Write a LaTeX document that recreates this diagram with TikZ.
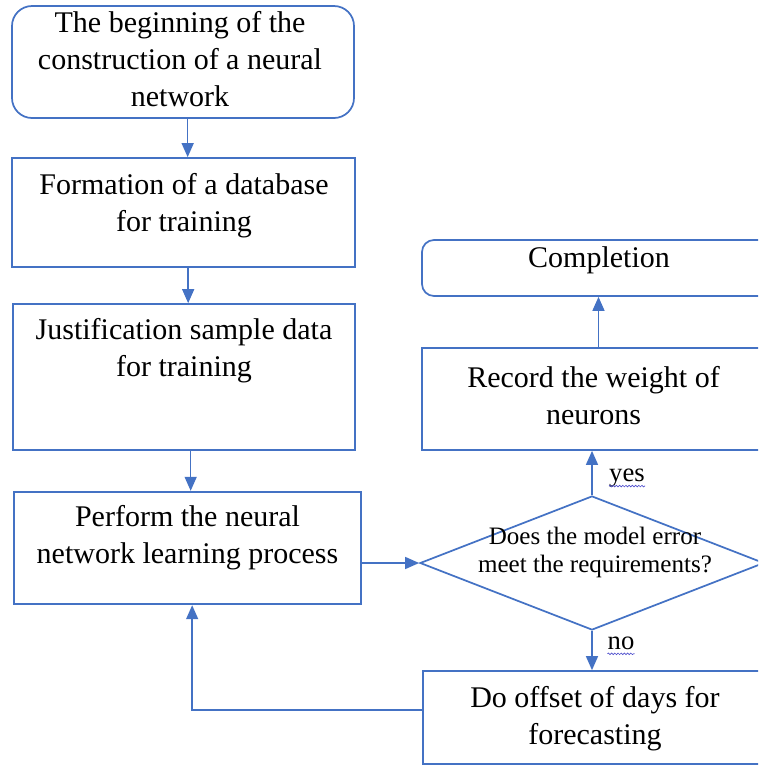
\documentclass[tikz,border=0pt]{standalone}
\usepackage{fontspec}
\setmainfont{Liberation Serif}
\usetikzlibrary{arrows.meta,shapes.geometric,decorations.pathmorphing}
\definecolor{flowblue}{RGB}{68,114,196}
\definecolor{spellblue}{RGB}{80,80,205}

\begin{document}
\begin{tikzpicture}[x=0.75pt,y=-0.75pt,
    box/.style={draw=flowblue, line width=1.3pt, rectangle, inner sep=0pt},
    roundbox/.style={box, rounded corners=#1},
    txt/.style={align=center, inner sep=0pt, font=\fontsize{22.5}{27.75}\selectfont},
    qtxt/.style={align=center, inner sep=0pt, font=\fontsize{18.8}{21.6}\selectfont},
    flow/.style={draw=flowblue, line width=1.1pt, -{Triangle[length=10.5pt,width=9pt]}},
    spell/.style={draw=spellblue, line width=0.5pt, decorate,
        decoration={snake, amplitude=0.6pt, segment length=2.4pt}}]
    \clip (0,0) rectangle (758,765);
    % left column
    \node[roundbox=15pt, minimum width=256.5pt, minimum height=84pt] (begin) at (183,62) {};
    \node[txt] (begintxt) at (180,59) {The beginning of the\\construction of a neural\\network};
    \node[box, minimum width=257.25pt, minimum height=81.75pt] (database) at (183.5,212.5) {};
    \node[txt] (databasetxt) at (184,205.5) {Formation of a database\\for training};
    \node[box, minimum width=256.5pt, minimum height=109.5pt] (sample) at (184,377) {};
    \node[txt] (sampletxt) at (184,351) {Justification sample data\\for training};
    \node[box, line width=1.8pt, minimum width=260.25pt, minimum height=84pt] (learning) at (187.5,548) {};
    \node[txt] (learningtxt) at (187.5,538) {Perform the neural\\network learning process};
    % right column
    \node[roundbox=9pt, minimum width=264.75pt, minimum height=42pt] (completion) at (598.5,268) {};
    \node[txt] (completiontxt) at (599,260) {Completion};
    \node[box, minimum width=264.75pt, minimum height=76.5pt] (record) at (598.5,399) {};
    \node[txt] (recordtxt) at (593.5,395.5) {Record the weight of\\neurons};
    \node[diamond, draw=flowblue, line width=1.3pt, inner sep=0pt,
        minimum width=258pt, minimum height=100.5pt] (check) at (592,563) {};
    \node[qtxt] (checktxt) at (595,552.5) {Does the model error\\meet the requirements?};
    \node[box, minimum width=264.75pt, minimum height=69.75pt] (offset) at (599.5,717.5) {};
    \node[txt] (offsettxt) at (595,718.5) {Do offset of days for\\forecasting};
    % connectors
    \draw[flow] ([xshift=3.5pt]begin.south) -- ([xshift=3.5pt]begin.south |- database.north);
    \draw[flow] ([xshift=3.5pt]database.south) -- ([xshift=3.5pt]database.south |- sample.north);
    \draw[flow] ([xshift=5pt]sample.south) -- ([xshift=5pt]sample.south |- learning.north);
    \draw[flow] (learning.east |- check.west) -- (check.west);
    \draw[flow] (check.north) -- (check.north |- record.south);
    \draw[flow] (record.north) -- (record.north |- completion.south);
    \draw[flow] (check.south) -- (check.south |- offset.north);
    \draw[flow] ([yshift=5.6pt]offset.west) -| ([xshift=3.5pt]learning.south);
    % branch labels
    \node[qtxt, font=\fontsize{20}{24}\selectfont] (yes) at (627,478) {yes};
    \node[qtxt, font=\fontsize{20}{24}\selectfont] (no) at (621,643) {no};
    \draw[spell] ([yshift=-3.5pt]yes.base west) -- ([yshift=-3.5pt]yes.base east);
    \draw[spell] ([yshift=-3.5pt]no.base west) -- ([yshift=-3.5pt]no.base east);
\end{tikzpicture}
\end{document}
